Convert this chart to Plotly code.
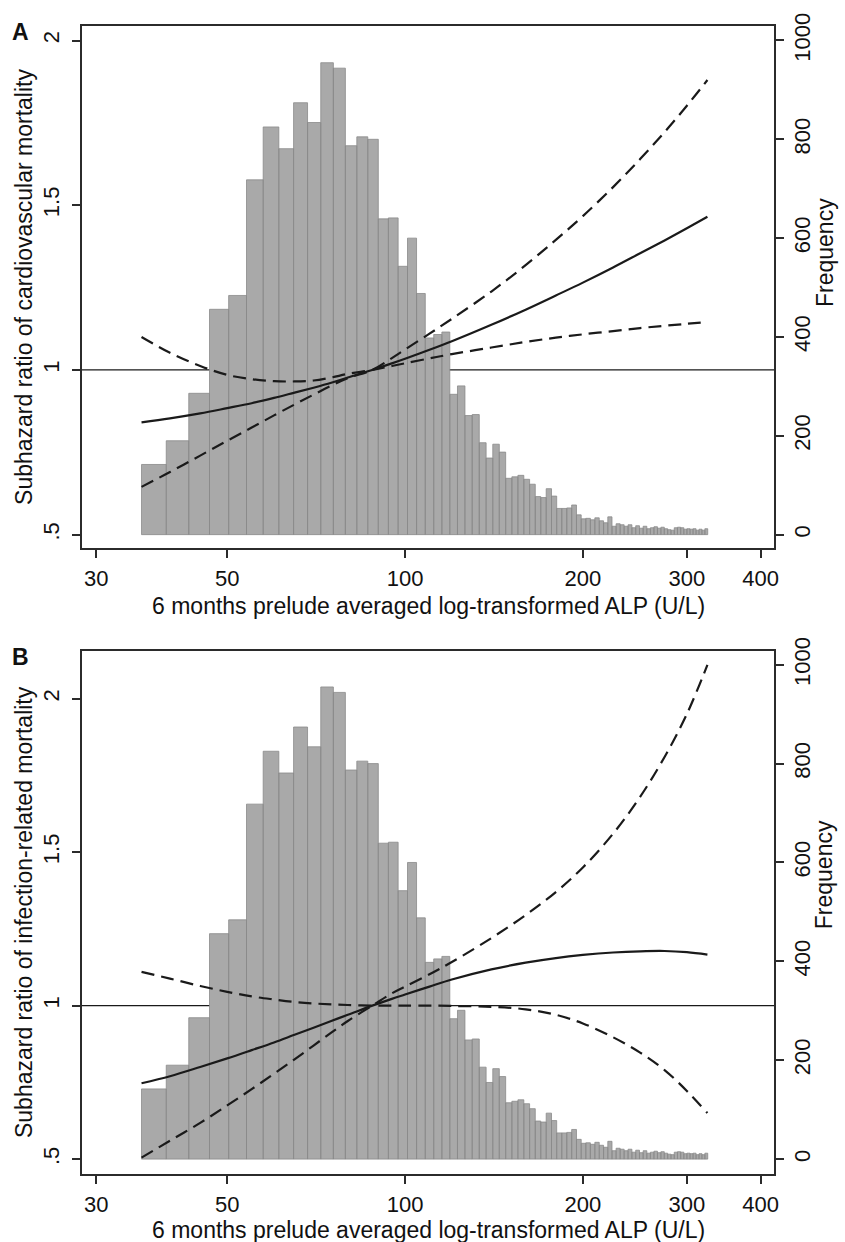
import plotly.graph_objects as go

# ---------------- data ----------------
# Histogram of 6-month averaged ALP (U/L): equal-width bins
bin_start = 35.8
bin_width = 3.62
freq = [142, 190, 286, 456, 484, 718, 825, 781, 874, 834,
        955, 944, 787, 805, 800, 639, 641, 543, 600, 488,
        398, 405, 410, 284, 301, 241, 243, 186, 155, 183,
        167, 114, 117, 120, 112, 102, 77, 75, 93, 78,
        53, 53, 54, 60, 40, 32, 33, 30, 34, 28,
        24, 36, 17, 22, 20, 17, 20, 14, 18, 13,
        17, 12, 14, 16, 13, 15, 12, 10, 9, 14,
        15, 14, 11, 12, 11, 12, 9, 11, 9, 12]

# Spline estimates of the subhazard ratio with 95% CI
alp = [35.8, 40, 45, 50, 55, 60, 65, 70, 75, 80, 88, 95, 100, 110, 120,
       140, 160, 180, 200, 225, 250, 275, 300, 325]

cv_shr = [0.841, 0.853, 0.868, 0.884, 0.899, 0.915, 0.931, 0.946, 0.961, 0.977,
          1.000, 1.020, 1.034, 1.061, 1.087, 1.137, 1.183, 1.226, 1.265, 1.311,
          1.354, 1.393, 1.430, 1.465]
cv_ci_a = [0.645, 0.690, 0.740, 0.785, 0.825, 0.862, 0.895, 0.925, 0.952, 0.975,
           1.000, 1.036, 1.062, 1.110, 1.155, 1.238, 1.318, 1.395, 1.467, 1.555,
           1.640, 1.722, 1.802, 1.880]
cv_ci_b = [1.100, 1.052, 1.012, 0.985, 0.972, 0.966, 0.965, 0.968, 0.977, 0.988,
           1.000, 1.012, 1.020, 1.035, 1.048, 1.068, 1.085, 1.098, 1.108, 1.118,
           1.127, 1.134, 1.140, 1.145]

inf_shr = [0.747, 0.770, 0.800, 0.828, 0.855, 0.880, 0.905, 0.928, 0.950, 0.970,
           1.000, 1.022, 1.036, 1.062, 1.085, 1.118, 1.140, 1.155, 1.165, 1.173,
           1.177, 1.178, 1.174, 1.166]
inf_ci_a = [0.505, 0.560, 0.618, 0.675, 0.728, 0.778, 0.825, 0.870, 0.912, 0.950,
            1.000, 1.040, 1.062, 1.102, 1.142, 1.220, 1.295, 1.370, 1.450, 1.560,
            1.680, 1.810, 1.950, 2.110]
inf_ci_b = [1.110, 1.088, 1.064, 1.045, 1.030, 1.020, 1.012, 1.007, 1.004, 1.002,
            1.000, 1.000, 1.000, 1.000, 0.999, 0.996, 0.988, 0.970, 0.942, 0.897,
            0.847, 0.790, 0.722, 0.650]

x_ticks = [30, 50, 100, 200, 300, 400]
shr_ticks = [0.5, 1, 1.5, 2]
shr_tick_text = [".5", "1", "1.5", "2"]
freq_ticks = [0, 200, 400, 600, 800, 1000]

x_title = "6 months prelude averaged log-transformed ALP (U/L)"
y_title_a = "Subhazard ratio of cardiovascular mortality"
y_title_b = "Subhazard ratio of infection-related mortality"

# ---------------- style ----------------
FONT = "Liberation Sans, Arial, Helvetica, sans-serif"
BAR_FILL = "#a9a9a9"
BAR_EDGE = "#8a8a8a"
INK = "#1a1a1a"
FRAME = "#2b2b2b"


def bar_outline(start, width, counts):
    xs, ys = [], []
    for k, c in enumerate(counts):
        x0 = start + k * width
        x1 = x0 + width
        xs += [x0, x0, x1, x1, x0, None]
        ys += [0, c, c, 0, 0, None]
    return xs, ys


fig = go.Figure()

panels = [
    # (x axis, freq axis, shr axis, estimate, ci1, ci2)
    ("x", "y", "y2", cv_shr, cv_ci_a, cv_ci_b),
    ("x2", "y3", "y4", inf_shr, inf_ci_a, inf_ci_b),
]

hx, hy = bar_outline(bin_start, bin_width, freq)
for xa, yf, ys, est, ci1, ci2 in panels:
    fig.add_trace(go.Scatter(
        x=hx, y=hy, xaxis=xa, yaxis=yf, mode="lines", fill="toself",
        fillcolor=BAR_FILL, line=dict(color=BAR_EDGE, width=0.8),
        connectgaps=False, hoverinfo="skip", showlegend=False))
    for vals, dash in ((ci1, "13px,7px"), (ci2, "13px,7px"), (est, "solid")):
        fig.add_trace(go.Scatter(
            x=alp, y=vals, xaxis=xa, yaxis=ys, mode="lines",
            line=dict(color=INK, width=2.2, dash=dash, shape="spline", smoothing=1.0),
            showlegend=False))

# reference line at SHR = 1 spanning the plot region, drawn beneath the bars
for xa, ys in (("x", "y2"), ("x2", "y4")):
    fig.add_shape(type="line", xref=f"{xa} domain", yref=ys, x0=0, x1=1, y0=1, y1=1,
                  line=dict(color=INK, width=1.2), layer="below")

tick_font = dict(family=FONT, size=22, color="#111")
xrange = [1.4531, 2.6246]
common_x = dict(type="log", range=xrange, tickvals=x_ticks, ticktext=[str(t) for t in x_ticks],
                ticks="outside", ticklen=8, tickwidth=1.5, tickcolor=FRAME,
                showline=True, linecolor=FRAME, linewidth=1.6, mirror=True,
                showgrid=False, zeroline=False, tickfont=tick_font, ticklabelstandoff=2)

common_freq = dict(side="right", tickvals=freq_ticks, ticks="outside", ticklen=8,
                   tickwidth=1.5, tickcolor=FRAME, showline=True, linecolor=FRAME,
                   linewidth=1.6, showgrid=False, zeroline=False, tickangle=-90,
                   tickfont=tick_font, ticklabelstandoff=0)
common_shr = dict(side="left", tickvals=shr_ticks, ticktext=shr_tick_text,
                  ticks="outside", ticklen=8, tickwidth=1.5, tickcolor=FRAME,
                  showline=True, linecolor=FRAME, linewidth=1.6, showgrid=False,
                  zeroline=False, tickangle=-90, tickfont=tick_font, ticklabelstandoff=4)

dom_a = [0.5451, 1.0]
dom_b = [0.0, 0.4559]

fig.update_layout(
    width=845, height=1242,
    margin=dict(l=82, r=71, t=17, b=68),
    paper_bgcolor="white", plot_bgcolor="white",
    font=dict(family=FONT, color="#111"),
    xaxis=dict(common_x, domain=[0, 1], anchor="y"),
    xaxis2=dict(common_x, domain=[0, 1], anchor="y3"),
    yaxis=dict(common_freq, domain=dom_a, anchor="x", range=[-27.5, 1029.3]),
    yaxis2=dict(common_shr, domain=dom_a, anchor="x", overlaying="y", range=[0.4588, 2.044]),
    yaxis3=dict(common_freq, domain=dom_b, anchor="x2", range=[-30.1, 1028.5]),
    yaxis4=dict(common_shr, domain=dom_b, anchor="x2", overlaying="y3", range=[0.4515, 2.1564]),
)

title_font = dict(family=FONT, size=23, color="#111")
ann = [
    dict(text=x_title, x=0.5, y=0.4952, xanchor="center", yanchor="middle", font=title_font),
    dict(text=x_title, x=0.5, y=-0.0484, xanchor="center", yanchor="middle", font=title_font),
    dict(text=y_title_a, x=-0.0838, y=0.7727, textangle=-90, xanchor="center",
         yanchor="middle", font=title_font),
    dict(text=y_title_b, x=-0.0838, y=0.2282, textangle=-90, xanchor="center",
         yanchor="middle", font=title_font),
    dict(text="Frequency", x=1.0735, y=0.803, textangle=-90, xanchor="center",
         yanchor="middle", font=title_font),
    dict(text="Frequency", x=1.0735, y=0.261, textangle=-90, xanchor="center",
         yanchor="middle", font=title_font),
    dict(text="<b>A</b>", x=-0.0882, y=0.9948, xanchor="center", yanchor="middle",
         font=dict(family=FONT, size=23, color="#111")),
    dict(text="<b>B</b>", x=-0.0882, y=0.4507, xanchor="center", yanchor="middle",
         font=dict(family=FONT, size=23, color="#111")),
]
for a in ann:
    fig.add_annotation(xref="paper", yref="paper", showarrow=False, **a)

fig.write_html("out.html")
